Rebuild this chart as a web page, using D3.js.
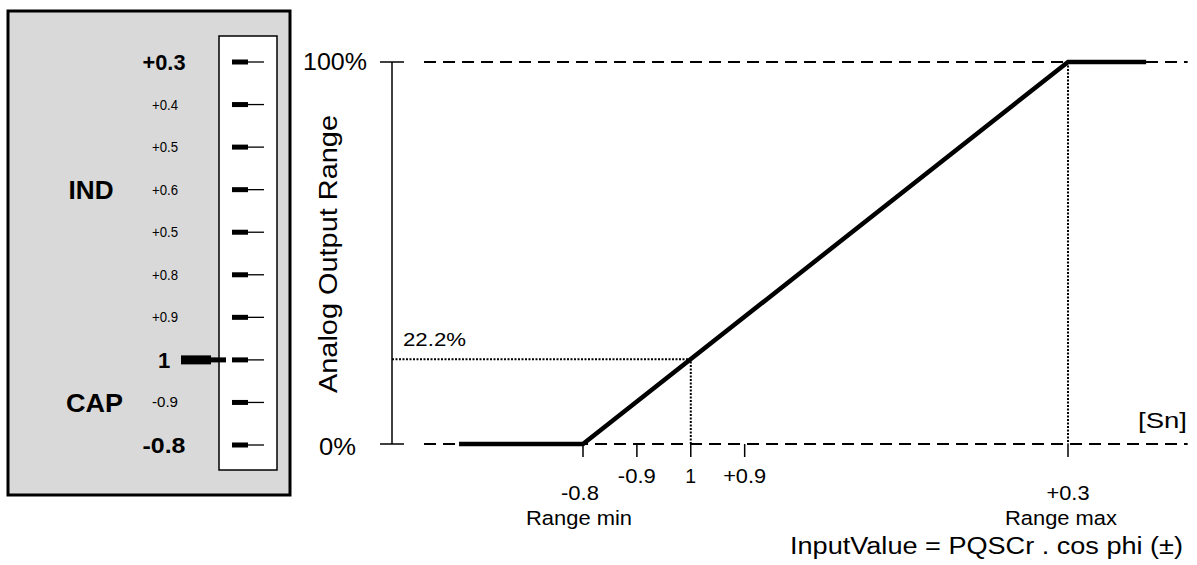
<!DOCTYPE html>
<html>
<head>
<meta charset="utf-8">
<script src="https://cdn.jsdelivr.net/npm/d3@7"></script>
<style>
  body { margin: 0; background: #fff; }
  svg { display: block; font-family: "Liberation Sans", Arial, sans-serif; }
</style>
</head>
<body>
<div id="chart"></div>
<script>
// left selector panel: labels from top to bottom
const panelLabels = ["+0.3", "+0.4", "+0.5", "+0.6", "+0.5", "+0.8", "+0.9", "1", "-0.9", "-0.8"];
const panelBold = ["+0.3", "1", "-0.8"];
const panelSelected = "1";

// transfer curve: input in steps of the cos phi scale (1 = 0), output in %
const curveIn = [-4.3, -2, 7, 8.45];
const curveOut = [0, 0, 100, 100];

// x ticks of the input axis
const xTickValues = [-2, -1, 0, 1, 7];
const xTickLabels = ["-0.8", "-0.9", "1", "+0.9", "+0.3"];
const rangeNames = { "-2": "Range min", "7": "Range max" };

const markValue = 0;      // input "1"
const markPercent = 22.2; // output at that input

const W = 1197, H = 565;
const svg = d3.select("#chart").append("svg")
  .attr("width", W)
  .attr("height", H);

// text, width forced to the one of the picture when len is given
function label(g, txt, x, y, o) {
  o = o || {};
  const t = g.append("text")
    .attr("x", x)
    .attr("y", y)
    .attr("font-size", o.size || 18)
    .attr("font-weight", o.bold ? "bold" : "normal")
    .attr("text-anchor", o.anchor || "middle")
    .attr("fill", "#000")
    .text(txt);
  if (o.len) t.attr("textLength", o.len).attr("lengthAdjust", "spacingAndGlyphs");
  if (o.rotate) t.attr("transform", "rotate(" + o.rotate + "," + x + "," + y + ")");
  return t;
}

// ---------- panel ----------
const panel = svg.append("g");
panel.append("rect")
  .attr("x", 8).attr("y", 11)
  .attr("width", 282).attr("height", 484)
  .attr("fill", "#d9d9d9")
  .attr("stroke", "#000")
  .attr("stroke-width", 3);
panel.append("rect")
  .attr("x", 219).attr("y", 36)
  .attr("width", 58).attr("height", 434)
  .attr("fill", "#fff")
  .attr("stroke", "#000")
  .attr("stroke-width", 1.5);

const py = d3.scalePoint()
  .domain(d3.range(panelLabels.length))
  .range([62, 445]);

panelLabels.forEach(function (lab, i) {
  const y = py(i);
  panel.append("line")
    .attr("x1", 232).attr("x2", 248)
    .attr("y1", y).attr("y2", y)
    .attr("stroke", "#000").attr("stroke-width", 5);
  panel.append("line")
    .attr("x1", 248).attr("x2", 264)
    .attr("y1", y).attr("y2", y)
    .attr("stroke", "#000").attr("stroke-width", 1.3);
  const bold = panelBold.indexOf(lab) >= 0;
  if (bold) {
    label(panel, lab, 164, y + 8, { size: 22, bold: true, len: lab.length === 1 ? null : 43 });
  } else {
    label(panel, lab, 165, y + 5, { size: 14, len: 26 });
  }
  if (lab === panelSelected) {
    panel.append("rect")
      .attr("x", 181).attr("y", y - 4.5)
      .attr("width", 30).attr("height", 9)
      .attr("fill", "#000");
    panel.append("rect")
      .attr("x", 210).attr("y", y - 2.5)
      .attr("width", 16).attr("height", 5)
      .attr("fill", "#000");
  }
});
label(panel, "IND", 91, py(3) + 9.5, { size: 26, bold: true, len: 45 });
label(panel, "CAP", 94.5, py(8) + 9.5, { size: 26, bold: true, len: 57 });

// ---------- transfer chart ----------
const x = d3.scaleLinear().domain([-2, 7]).range([583, 1068]);
const y = d3.scaleLinear().domain([0, 100]).range([444, 62]);
const xAxisX = 392;
const dashFrom = -4.95, dashTo = 9.22;

const g = svg.append("g");

// output axis
g.append("line")
  .attr("x1", xAxisX).attr("x2", xAxisX)
  .attr("y1", y(100)).attr("y2", y(0))
  .attr("stroke", "#000").attr("stroke-width", 1.5);
[0, 100].forEach(function (v) {
  g.append("line")
    .attr("x1", xAxisX - 12).attr("x2", xAxisX + 12)
    .attr("y1", y(v)).attr("y2", y(v))
    .attr("stroke", "#000").attr("stroke-width", 1.5);
  g.append("line")
    .attr("x1", x(dashFrom)).attr("x2", x(dashTo))
    .attr("y1", y(v)).attr("y2", y(v))
    .attr("stroke", "#000").attr("stroke-width", 2)
    .attr("stroke-dasharray", "12,7");
});
label(g, "100%", 335, y(100) + 8, { size: 23.5, len: 64 });
label(g, "0%", 337.5, y(0) + 11, { size: 23.5, len: 37 });
label(g, "Analog Output Range", 337, 254, { size: 25, len: 278, rotate: -90 });

// input ticks
xTickValues.forEach(function (v, i) {
  g.append("line")
    .attr("x1", x(v)).attr("x2", x(v))
    .attr("y1", y(0)).attr("y2", y(0) + 13)
    .attr("stroke", "#000").attr("stroke-width", 1.5);
  const far = (v in rangeNames);
  const lab = xTickLabels[i];
  label(g, lab, x(v) - (lab === "-0.8" ? 3 : 0), y(0) + (far ? 56 : 39),
    { size: 19.5, len: lab.length === 1 ? null : (lab[0] === "+" ? 43 : 38) });
  if (far) {
    label(g, rangeNames[v], x(v) - (v < 0 ? 4 : 7), y(0) + 81,
      { size: 20.5, len: v < 0 ? 106 : 112 });
  }
});

// guide lines at the marked point and at range max
g.append("path")
  .attr("d", d3.line()([[xAxisX, y(markPercent)], [x(markValue), y(markPercent)], [x(markValue), y(0)]]))
  .attr("fill", "none")
  .attr("stroke", "#000").attr("stroke-width", 2)
  .attr("stroke-dasharray", "2,1.5");
g.append("line")
  .attr("x1", x(7)).attr("x2", x(7))
  .attr("y1", y(100)).attr("y2", y(0))
  .attr("stroke", "#000").attr("stroke-width", 2)
  .attr("stroke-dasharray", "2,1.5");
label(g, markPercent + "%", 403, y(markPercent) - 13, { size: 18, anchor: "start", len: 63 });

// transfer curve
const curve = curveIn.map(function (v, i) { return [v, curveOut[i]]; });
g.append("path")
  .datum(curve)
  .attr("d", d3.line().x(function (d) { return x(d[0]); }).y(function (d) { return y(d[1]); }))
  .attr("fill", "none")
  .attr("stroke", "#000")
  .attr("stroke-width", 4.5);

label(g, "[Sn]", 1187, 428, { size: 21.5, anchor: "end", len: 49 });
label(g, "InputValue = PQSCr . cos phi (\u00b1)", 1183, 554, { size: 23, anchor: "end", len: 393 });
</script>
</body>
</html>
